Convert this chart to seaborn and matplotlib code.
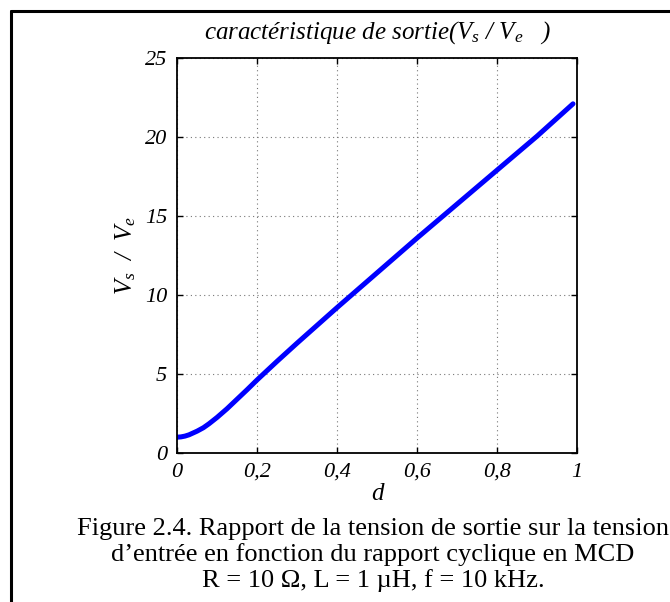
import matplotlib
matplotlib.use("Agg")
import matplotlib.pyplot as plt
import seaborn as sns
import pandas as pd
from matplotlib.lines import Line2D

# Duty cycle and output/input voltage ratio
duty = [0.0, 0.01, 0.02, 0.03, 0.05, 0.066, 0.08, 0.1, 0.125, 0.15, 0.175, 0.2,
        0.25, 0.3, 0.4, 0.5, 0.6, 0.7, 0.8, 0.9, 0.99]
ratio = [1.0, 1.02, 1.07, 1.15, 1.38, 1.6, 1.85, 2.25, 2.8, 3.4, 4.0, 4.62,
         5.8, 6.95, 9.2, 11.4, 13.6, 15.75, 17.9, 20.05, 22.1]

x_ticks = [0, 0.2, 0.4, 0.6, 0.8, 1]
x_tick_labels = ["0", "0,2", "0,4", "0,6", "0,8", "1"]
y_ticks = [0, 5, 10, 15, 20, 25]
y_tick_labels = ["0", "5", "10", "15", "20", "25"]

sns.set_style("white")
plt.rcParams["font.family"] = ["Liberation Serif", "DejaVu Serif"]
plt.rcParams["mathtext.fontset"] = "custom"
plt.rcParams["mathtext.rm"] = "Liberation Serif"
plt.rcParams["mathtext.it"] = "Liberation Serif:italic"
plt.rcParams["text.color"] = "black"
plt.rcParams["axes.labelcolor"] = "black"
plt.rcParams["xtick.color"] = "black"
plt.rcParams["ytick.color"] = "black"

df = pd.DataFrame({"d": duty, "Vs/Ve": ratio})

fig = plt.figure(figsize=(6.7, 6.02), dpi=100)
ax = fig.add_axes([177 / 670, 149 / 602, 400 / 670, 395 / 602])

sns.lineplot(data=df, x="d", y="Vs/Ve", ax=ax, color="#0000ff", linewidth=3.6)

ax.set_xlim(0, 1)
ax.set_ylim(0, 25)
ax.set_xticks(x_ticks)
ax.set_xticklabels(x_tick_labels, fontstyle="italic", fontsize=16)
ax.set_yticks(y_ticks)
ax.set_yticklabels(y_tick_labels, fontstyle="italic", fontsize=16)
ax.tick_params(direction="in", length=4, width=1, top=True, right=True,
               bottom=True, left=True, pad=7)
ax.grid(True, linestyle=(0, (1, 3)), color="#777777", linewidth=0.8)
for s in ax.spines.values():
    s.set_visible(True)
    s.set_color("black")
    s.set_linewidth(1.3)

ax.set_xlabel("d", fontstyle="italic", fontsize=18, labelpad=1)
ax.set_ylabel(r"$V_s$  /  $V_e$", fontstyle="italic", fontsize=18, labelpad=5)
ax.set_title(r"caractéristique de sortie($V_s$ / $V_e$   )", fontstyle="italic",
             fontsize=18, pad=14)

caption = ("Figure 2.4. Rapport de la tension de sortie sur la tension\n"
           "d\u2019entrée en fonction du rapport cyclique en MCD\n"
           "R = 10 \u03a9, L = 1 \u00b5H, f = 10 kHz.")
fig.text(373 / 670, 1 - 518 / 602, caption, ha="center", va="top", fontsize=19,
         linespacing=1.17)

# Page frame on the left and top edges
fig.add_artist(Line2D([11 / 670, 11 / 670], [0, 1 - 11 / 602], transform=fig.transFigure,
                      color="black", linewidth=2.2))
fig.add_artist(Line2D([11 / 670, 1], [1 - 11 / 602, 1 - 11 / 602], transform=fig.transFigure,
                      color="black", linewidth=2.2))

fig.savefig("out.png", dpi=100)
